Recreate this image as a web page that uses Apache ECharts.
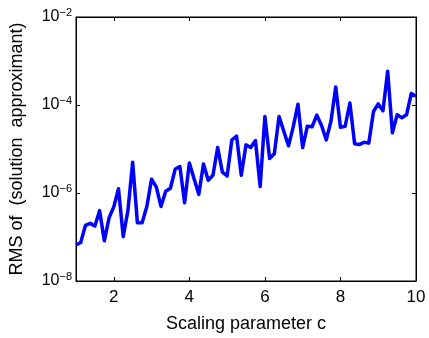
<!DOCTYPE html>
<html>
<head>
<meta charset="utf-8">
<script src="https://cdn.jsdelivr.net/npm/echarts@6/dist/echarts.min.js"></script>
<style>
html,body{margin:0;padding:0;background:#fff;}
#chart{width:429px;height:338px;}
</style>
</head>
<body>
<div id="chart"></div>
<script>
// Scaling parameter c (step 0.125 from 1 to 10)
var cValues = [1,1.125,1.25,1.375,1.5,1.625,1.75,1.875,2,2.125,2.25,2.375,2.5,2.625,2.75,2.875,3,3.125,3.25,3.375,3.5,3.625,3.75,3.875,4,4.125,4.25,4.375,4.5,4.625,4.75,4.875,5,5.125,5.25,5.375,5.5,5.625,5.75,5.875,6,6.125,6.25,6.375,6.5,6.625,6.75,6.875,7,7.125,7.25,7.375,7.5,7.625,7.75,7.875,8,8.125,8.25,8.375,8.5,8.625,8.75,8.875,9,9.125,9.25,9.375,9.5,9.625,9.75,9.875,10];
// RMS of (solution - approximant)
var rmsValues = [6.58e-8,7.52e-8,1.84e-7,2.04e-7,1.77e-7,3.97e-7,8.20e-8,2.72e-7,4.83e-7,1.25e-6,1.02e-7,4.04e-7,5.00e-6,2.10e-7,2.12e-7,4.95e-7,2.06e-6,1.38e-6,4.95e-7,1.10e-6,1.28e-6,3.48e-6,4.01e-6,5.98e-7,4.82e-6,2.12e-6,9.31e-7,4.58e-6,1.95e-6,2.52e-6,1.08e-5,2.99e-6,2.43e-6,1.60e-5,1.97e-5,2.52e-6,1.24e-5,1.08e-5,1.56e-5,1.40e-6,5.50e-5,6.07e-6,7.82e-6,5.50e-5,2.55e-5,1.18e-5,3.18e-5,1.04e-4,1.08e-5,3.29e-5,3.21e-5,5.87e-5,3.43e-5,1.61e-5,4.33e-5,2.57e-4,3.12e-5,3.29e-5,1.11e-4,1.32e-5,1.26e-5,1.42e-5,1.36e-5,7.11e-5,1.06e-4,7.41e-5,5.87e-4,2.33e-5,5.97e-5,5.12e-5,5.97e-5,1.82e-4,1.58e-4];
var xTickValues = [2,4,6,8,10];
var yTickValues = [1e-8,1e-6,1e-4,1e-2];
var xAxisTitle = 'Scaling parameter c';
var yAxisTitle = 'RMS of  (solution  approximant)';

var FONT = '"Liberation Sans", Arial, Helvetica, sans-serif';
var chart = echarts.init(document.getElementById('chart'), null, {renderer:'canvas'});
var data = cValues.map(function(c,i){return [c, rmsValues[i]];});

function yFmt(v){
  var e = Math.round(Math.log10(v));
  return '{b|10}{s|' + (e < 0 ? '\u2212' : '') + Math.abs(e) + '}';
}
var lineStyleAxis = {color:'#000', width:1};
chart.setOption({
  animation:false,
  backgroundColor:'#fff',
  grid:{left:76, right:13, top:17, bottom:52, show:true, borderColor:'#000', borderWidth:1, backgroundColor:'transparent'},
  xAxis:[{
    type:'value', min:1, max:10, position:'bottom',
    axisLine:{show:true, lineStyle:lineStyleAxis},
    axisTick:{show:true, inside:true, length:4, customValues:xTickValues, lineStyle:lineStyleAxis},
    axisLabel:{show:true, customValues:xTickValues, color:'#000', fontFamily:FONT, fontSize:17, margin:8},
    splitLine:{show:false},
    name:xAxisTitle, nameLocation:'middle', nameGap:34,
    nameTextStyle:{color:'#000', fontFamily:FONT, fontSize:18}
  },{
    type:'value', min:1, max:10, position:'top',
    axisLine:{show:true, lineStyle:lineStyleAxis},
    axisTick:{show:true, inside:true, length:4, customValues:xTickValues, lineStyle:lineStyleAxis},
    axisLabel:{show:false}, splitLine:{show:false}
  }],
  yAxis:[{
    type:'log', logBase:10, min:1e-8, max:1e-2, position:'left',
    axisLine:{show:true, lineStyle:lineStyleAxis},
    axisTick:{show:true, inside:true, length:4, customValues:yTickValues, lineStyle:lineStyleAxis},
    axisLabel:{show:true, customValues:yTickValues, formatter:yFmt, margin:4,
      rich:{
        b:{color:'#000', fontFamily:FONT, fontSize:16},
        s:{color:'#000', fontFamily:FONT, fontSize:11, verticalAlign:'bottom', padding:[0,0,9,0]}
      }},
    splitLine:{show:false},
    minorTick:{show:false},
    name:yAxisTitle, nameLocation:'middle', nameGap:50,
    nameTextStyle:{color:'#000', fontFamily:FONT, fontSize:18}
  },{
    type:'log', logBase:10, min:1e-8, max:1e-2, position:'right',
    axisLine:{show:true, lineStyle:lineStyleAxis},
    axisTick:{show:true, inside:true, length:4, customValues:yTickValues, lineStyle:lineStyleAxis},
    axisLabel:{show:false}, splitLine:{show:false}
  }],
  series:[{
    type:'line', data:data, xAxisIndex:0, yAxisIndex:0,
    showSymbol:false, symbol:'none', smooth:false,
    lineStyle:{color:'#0000ff', width:3.5, join:'round'}
  }]
});
</script>
</body>
</html>
